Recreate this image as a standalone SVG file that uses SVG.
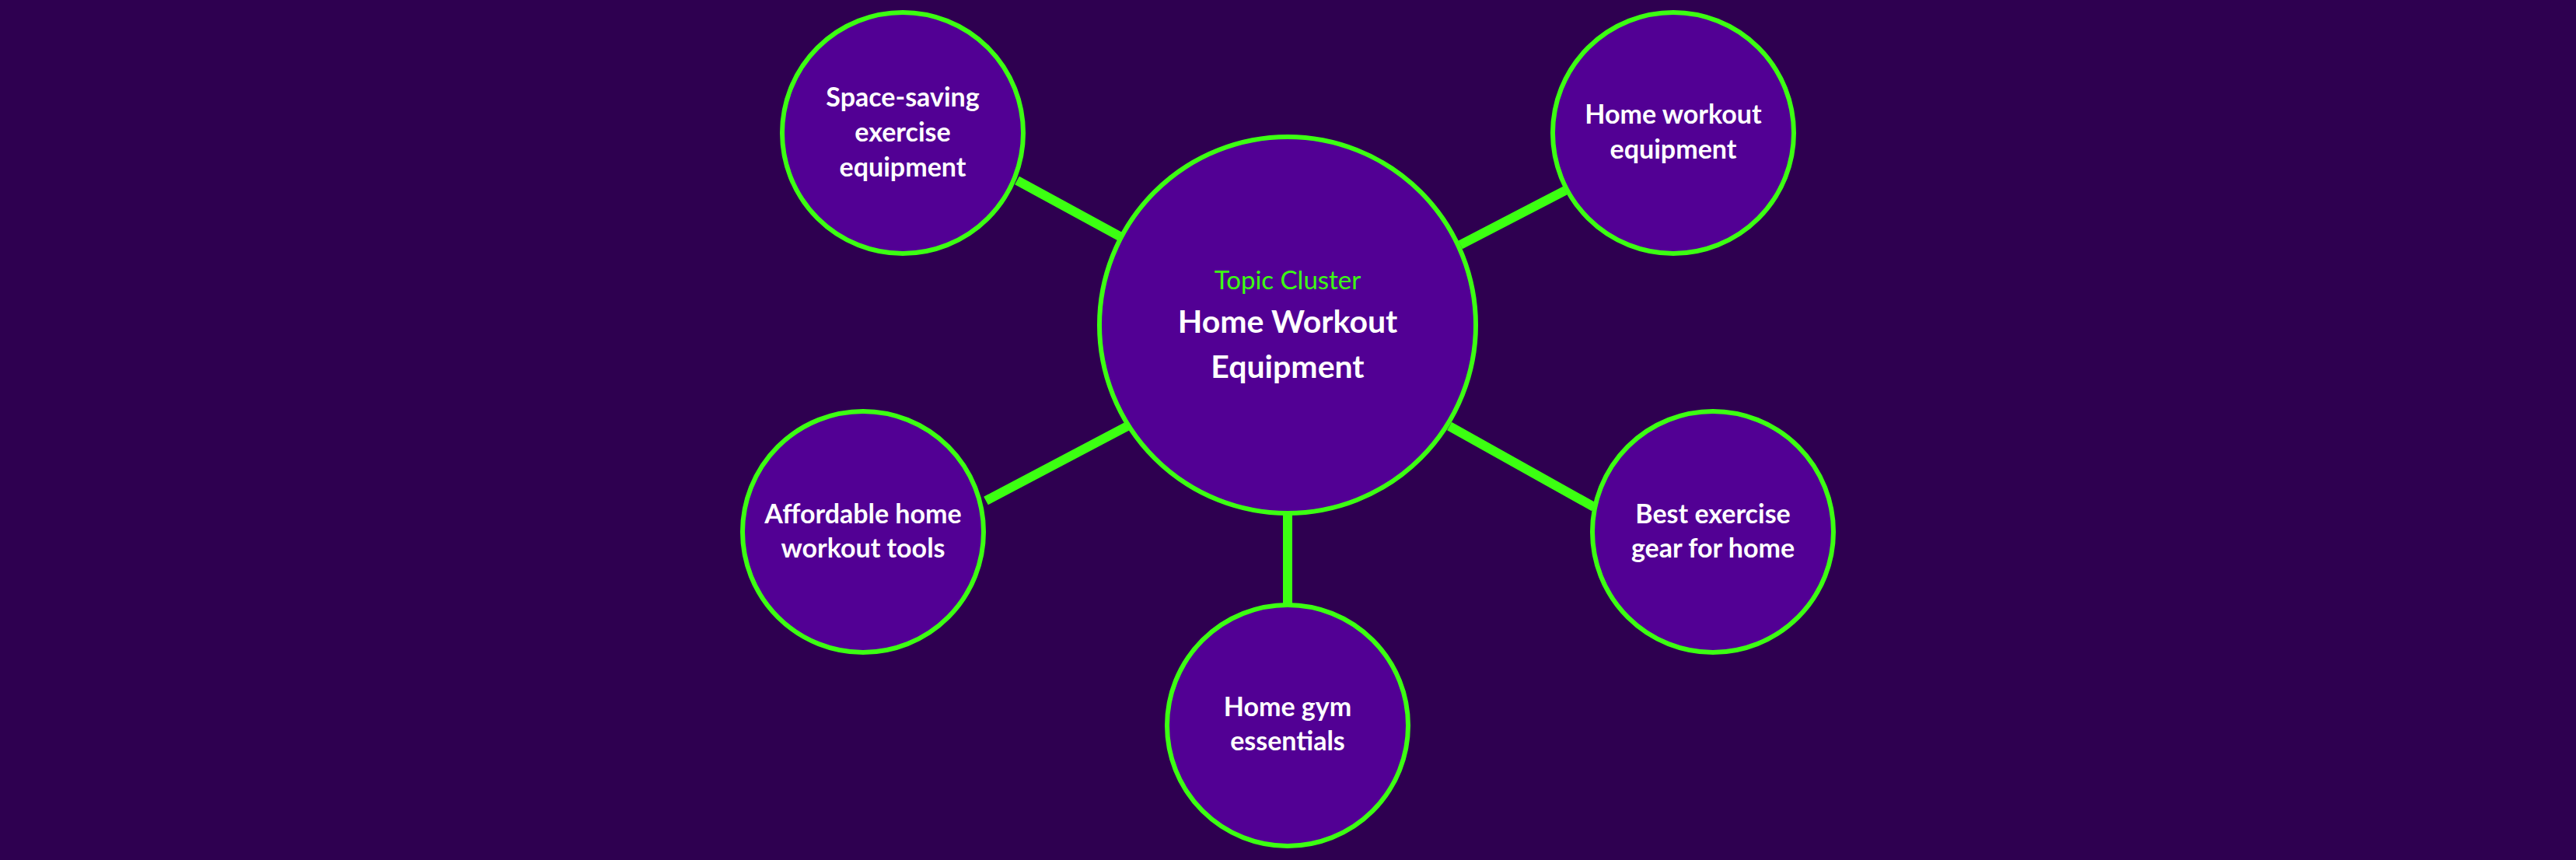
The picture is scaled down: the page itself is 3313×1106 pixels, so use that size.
<svg xmlns="http://www.w3.org/2000/svg" width="3313" height="1106" viewBox="0 0 3313 1106">
<style>
.bg{fill:#2E0050}
.node{fill:#520094;stroke:#3CFF12;stroke-width:6}
.conn{stroke:#3CFF12;stroke-width:12;stroke-linecap:butt;fill:none}
.lbl{font-family:Lato,"Liberation Sans",sans-serif;font-weight:700;font-size:34px;fill:#FFFFFF;text-anchor:middle}
.ttl{font-family:Lato,"Liberation Sans",sans-serif;font-weight:700;font-size:41px;fill:#FFFFFF;text-anchor:middle}
.sub{font-family:Lato,"Liberation Sans",sans-serif;font-weight:400;font-size:33px;fill:#3CFF12;text-anchor:middle}
</style>
<rect class="bg" x="0" y="0" width="3313" height="1106"/>
<g id="connectors">
<line class="conn" x1="1308" y1="232" x2="1442" y2="305"/>
<line class="conn" x1="1878" y1="315" x2="2013" y2="245"/>
<line class="conn" x1="1268" y1="644" x2="1450" y2="548"/>
<line class="conn" x1="1864" y1="548" x2="2050" y2="652"/>
<line class="conn" x1="1656" y1="660" x2="1656" y2="780"/>
</g>
<g id="center">
<circle class="node" cx="1656" cy="418" r="242"/>
<text class="sub" x="1656" y="372">Topic Cluster</text>
<text class="ttl" x="1656" y="428">Home Workout</text>
<text class="ttl" x="1656" y="486">Equipment</text>
</g>
<g id="space-saving">
<circle class="node" cx="1161" cy="171" r="155"/>
<text class="lbl" x="1161" y="137">Space-saving</text>
<text class="lbl" x="1161" y="182">exercise</text>
<text class="lbl" x="1161" y="227">equipment</text>
</g>
<g id="home-workout-equipment">
<circle class="node" cx="2152" cy="171" r="155"/>
<text class="lbl" x="2152" y="159">Home workout</text>
<text class="lbl" x="2152" y="204">equipment</text>
</g>
<g id="affordable">
<circle class="node" cx="1110" cy="684" r="155"/>
<text class="lbl" x="1110" y="673">Affordable home</text>
<text class="lbl" x="1110" y="717">workout tools</text>
</g>
<g id="best-gear">
<circle class="node" cx="2203" cy="684" r="155"/>
<text class="lbl" x="2203" y="673">Best exercise</text>
<text class="lbl" x="2203" y="717">gear for home</text>
</g>
<g id="home-gym">
<circle class="node" cx="1656" cy="933" r="155"/>
<text class="lbl" x="1656" y="921">Home gym</text>
<text class="lbl" x="1656" y="965">essentials</text>
</g>
</svg>
